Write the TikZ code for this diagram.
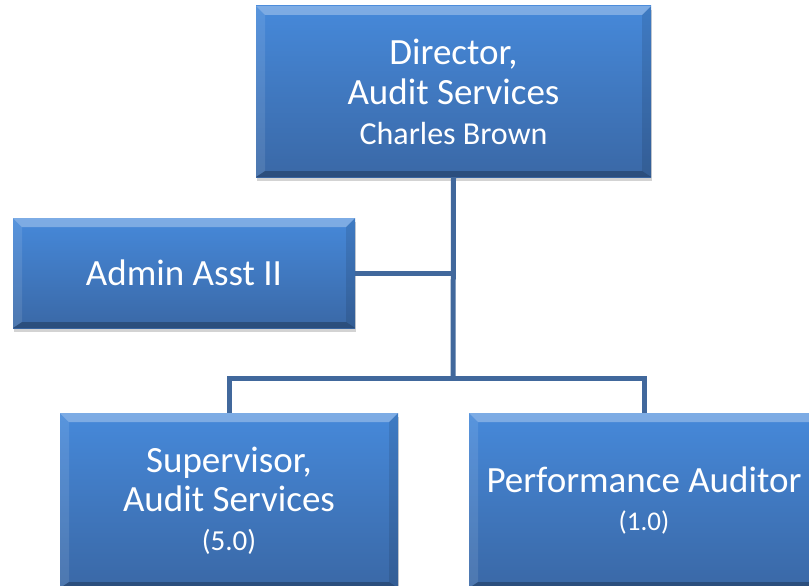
\documentclass[tikz,border=0pt]{standalone}
\usepackage{fontspec}
\setmainfont{Carlito}
\usetikzlibrary{shadows.blur,shadows}
\definecolor{boxtop}{HTML}{4689DA}
\definecolor{boxbot}{HTML}{3A68A6}
\definecolor{linecol}{HTML}{41689C}
\tikzset{
  orgbox/.style={rectangle, inner sep=0pt, align=center, text=white,
    top color=boxtop, bottom color=boxbot,
    drop shadow={shadow xshift=1pt, shadow yshift=-4pt, opacity=0.35},
    path picture={
      \fill[white,opacity=0.30] (path picture bounding box.north west) -- (path picture bounding box.north east)
        -- ([xshift=-9pt,yshift=-9pt]path picture bounding box.north east) -- ([xshift=9pt,yshift=-9pt]path picture bounding box.north west) -- cycle;
      \fill[white,opacity=0.10] (path picture bounding box.north west) -- ([xshift=9pt,yshift=-9pt]path picture bounding box.north west)
        -- ([xshift=9pt,yshift=6pt]path picture bounding box.south west) -- (path picture bounding box.south west) -- cycle;
      \fill[black,opacity=0.10] (path picture bounding box.north east) -- ([xshift=-9pt,yshift=-9pt]path picture bounding box.north east)
        -- ([xshift=-9pt,yshift=6pt]path picture bounding box.south east) -- (path picture bounding box.south east) -- cycle;
      \fill[black,opacity=0.25] (path picture bounding box.south west) -- (path picture bounding box.south east)
        -- ([xshift=-9pt,yshift=6pt]path picture bounding box.south east) -- ([xshift=9pt,yshift=6pt]path picture bounding box.south west) -- cycle;
    }},
  conn/.style={draw=linecol, line width=5pt}
}
\begin{document}
\begin{tikzpicture}[x=1pt,y=-1pt]
\useasboundingbox (0,0) rectangle (809,586);
\clip (0,0) rectangle (809,586);
\node[orgbox, minimum width=395pt, minimum height=171pt, font=\fontsize{37}{40}\selectfont] (dir) at (453.5,91.5)
  {Director,\\ Audit Services\\ {\fontsize{32}{40}\selectfont Charles Brown}};
\node[orgbox, minimum width=342pt, minimum height=110pt, font=\fontsize{37}{40}\selectfont] (adm) at (184,273)
  {Admin Asst II};
\node[orgbox, minimum width=338pt, minimum height=175pt, font=\fontsize{37}{39}\selectfont] (sup) at (229,500.5)
  {Supervisor,\\ Audit Services\\ {\fontsize{29}{39}\selectfont (5.0)}};
\node[orgbox, minimum width=350pt, minimum height=175pt, font=\fontsize{37}{38}\selectfont] (perf) at (644,500.5)
  {Performance Auditor\\ {\fontsize{27}{38}\selectfont (1.0)}};
\coordinate (j1) at (453,273);
\coordinate (j2) at (453,378);
\draw[conn] (dir.south) -- (j2);
\draw[conn] (adm.east) -- (j1);
\draw[conn] (sup.north) |- (j2) -| (perf.north);
\end{tikzpicture}
\end{document}
